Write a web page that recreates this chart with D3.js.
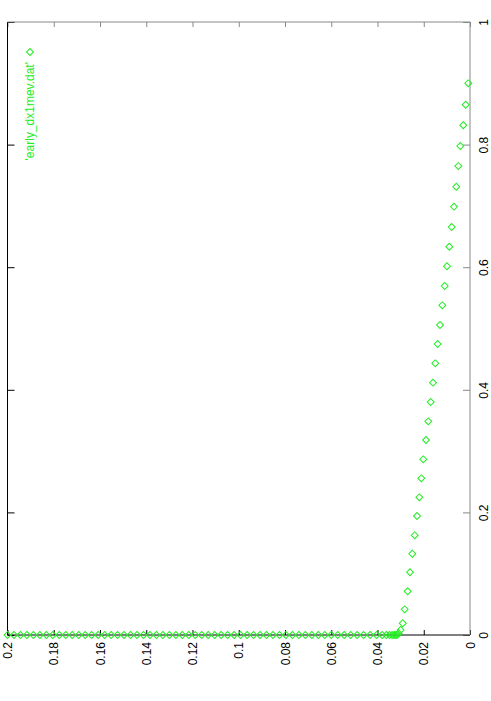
<!DOCTYPE html>
<html>
<head>
<meta charset="utf-8">
<script src="https://cdn.jsdelivr.net/npm/d3@7"></script>
<style>
  body { margin: 0; background: #fff; }
  text { font-family: "Liberation Sans", Arial, sans-serif; font-size: 12px; }
</style>
</head>
<body>
<div id="chart"></div>
<script>
// columns of early_dx1mev.dat : position (0..1) and value (0..0.2)
var posVals = [0.900, 0.865, 0.8315, 0.7977, 0.765, 0.7313, 0.6987, 0.6656, 0.6334, 0.6015,
  0.5693, 0.5378, 0.5057, 0.4747, 0.4432, 0.4116, 0.3801, 0.3486, 0.3181, 0.2866,
  0.2556, 0.2246, 0.1941, 0.1626, 0.1326, 0.1023, 0.0713, 0.0419, 0.0191, 0.0082, 0.0028];
var valVals = [0.00074, 0.00186, 0.0029, 0.0042, 0.00506, 0.00592, 0.00692, 0.00791, 0.00895, 0.00995,
  0.01094, 0.01198, 0.01297, 0.01397, 0.01501, 0.0160, 0.0170, 0.01803, 0.01903, 0.0202,
  0.02106, 0.02192, 0.02292, 0.02391, 0.02495, 0.02595, 0.02694, 0.02824, 0.0291, 0.0300, 0.0309];
// points that sit at position 0
var zeroVals = [0.2000, 0.1972, 0.1944, 0.1916, 0.1888, 0.1860, 0.1832, 0.1804, 0.1776, 0.1748,
  0.1720, 0.1692, 0.1664, 0.1636, 0.1608, 0.1580, 0.1552, 0.1524, 0.1496, 0.1468,
  0.1440, 0.1412, 0.1384, 0.1356, 0.1328, 0.1300, 0.1272, 0.1244, 0.1216, 0.1188,
  0.1160, 0.1132, 0.1104, 0.1076, 0.1048, 0.1020, 0.0992, 0.0964, 0.0936, 0.0908,
  0.0880, 0.0852, 0.0824, 0.0796, 0.0768, 0.0740, 0.0712, 0.0684, 0.0656, 0.0628,
  0.0600, 0.0572, 0.0544, 0.0516, 0.0488, 0.0460, 0.0432, 0.0404, 0.0380, 0.0362,
  0.0348, 0.0337, 0.0328, 0.0321, 0.0315];
var valTicks = [0, 0.02, 0.04, 0.06, 0.08, 0.1, 0.12, 0.14, 0.16, 0.18, 0.2];
var posTicks = [0, 0.2, 0.4, 0.6, 0.8, 1];
var legendLabel = "'early_dx1mev.dat'";

var width = 491;
var height = 701;
var pLeft = 7.5, pRight = 470, pTop = 22, pBottom = 635;
var green = "#22ee22";

var svg = d3.select("#chart").
append("svg").
attr("width", width).
attr("height", height);

// plot is turned 90 degrees: value runs right-to-left, position runs bottom-to-top
var x = d3.scaleLinear().domain([0, 0.2]).range([pRight, pLeft]);
var y = d3.scaleLinear().domain([0, 1]).range([pBottom, pTop]);

var fmt = function (d) {return String(+d.toFixed(2));};

// bottom axis (value)
var bottomAxis = svg.append("g").
attr("transform", "translate(0," + pBottom + ")").
call(d3.axisBottom(x).tickValues(valTicks).tickFormat(fmt).tickSize(-5).tickSizeOuter(0));
bottomAxis.select(".domain").remove();
bottomAxis.selectAll("line").attr("stroke", "#000");
bottomAxis.selectAll("text").
attr("fill", "#000").
attr("text-anchor", "end").
attr("transform", "translate(0,7) rotate(-90)").
attr("x", 0).
attr("y", 0).
attr("dy", "0.35em");

// top mirror ticks
var topAxis = svg.append("g").
attr("transform", "translate(0," + pTop + ")").
call(d3.axisTop(x).tickValues(valTicks).tickFormat("").tickSize(-5).tickSizeOuter(0));
topAxis.select(".domain").remove();
topAxis.selectAll("line").attr("stroke", "#888");

// right axis (position)
var rightAxis = svg.append("g").
attr("transform", "translate(" + pRight + ",0)").
call(d3.axisRight(y).tickValues(posTicks).tickFormat(fmt).tickSize(-7).tickSizeOuter(0));
rightAxis.select(".domain").remove();
rightAxis.selectAll("line").attr("stroke", "#888");
rightAxis.selectAll("text").
attr("fill", "#000").
attr("text-anchor", "middle").
attr("transform", "translate(14,0) rotate(-90)").
attr("x", 0).
attr("y", 0).
attr("dy", "0.35em");

// left mirror ticks
var leftAxis = svg.append("g").
attr("transform", "translate(" + pLeft + ",0)").
call(d3.axisLeft(y).tickValues(posTicks).tickFormat("").tickSize(-7).tickSizeOuter(0));
leftAxis.select(".domain").remove();
leftAxis.selectAll("line").attr("stroke", "#000");

// border
svg.append("line").attr("x1", pLeft).attr("x2", pRight).attr("y1", pBottom).attr("y2", pBottom).attr("stroke", "#000");
svg.append("line").attr("x1", pLeft).attr("x2", pLeft).attr("y1", pTop).attr("y2", pBottom).attr("stroke", "#000");
svg.append("line").attr("x1", pLeft).attr("x2", pRight).attr("y1", pTop).attr("y2", pTop).attr("stroke", "#888");
svg.append("line").attr("x1", pRight).attr("x2", pRight).attr("y1", pTop).attr("y2", pBottom).attr("stroke", "#888");

var points = [];
for (var i = 0; i < zeroVals.length; i++) {
  points.push({ val: zeroVals[i], pos: 0 });
}
for (var j = 0; j < posVals.length; j++) {
  points.push({ val: valVals[j], pos: posVals[j] });
}

var diamond = d3.symbol().type(d3.symbolSquare).size(24);

svg.selectAll(".dot").
data(points).
enter().
append("path").
attr("class", "dot").
attr("d", diamond).
attr("transform", function (d) {
  return "translate(" + x(d.val) + "," + y(d.pos) + ") rotate(45)";
}).
attr("fill", "none").
attr("stroke", green).
attr("stroke-width", 1);

// key
svg.append("path").
attr("d", diamond).
attr("transform", "translate(30,52) rotate(45)").
attr("fill", "none").
attr("stroke", green);

svg.append("text").
text(legendLabel).
attr("fill", green).
attr("text-anchor", "end").
attr("dy", "0.35em").
attr("transform", "translate(30,62) rotate(-90)");
</script>
</body>
</html>
